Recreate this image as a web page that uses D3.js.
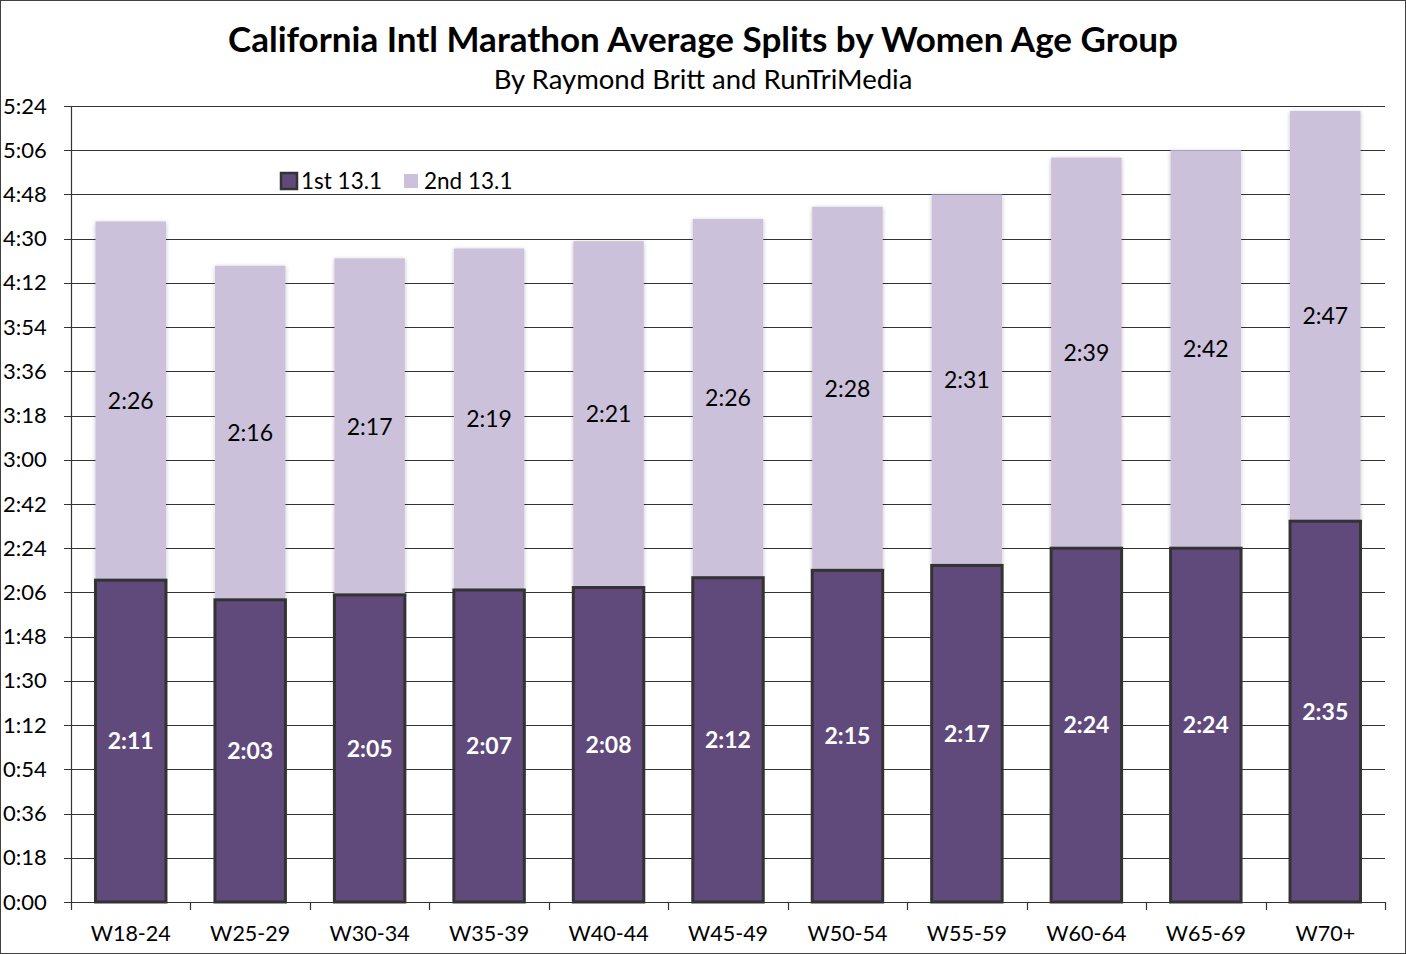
<!DOCTYPE html>
<html>
<head>
<meta charset="utf-8">
<script src="https://cdn.jsdelivr.net/npm/d3@7"></script>
<style>
  body { margin: 0; background: #fff; }
  text { font-family: Lato, "Noto Sans", sans-serif; fill: #000; }
</style>
</head>
<body>
<svg id="chart" width="1406" height="954"></svg>
<script>
// age groups and average split times (minutes)
var groups = ["W18-24", "W25-29", "W30-34", "W35-39", "W40-44", "W45-49", "W50-54", "W55-59", "W60-64", "W65-69", "W70+"];
var firstHalf = [131, 123, 125, 127, 128, 132, 135, 137, 144, 144, 155];
var secondHalf = [146, 136, 137, 139, 141, 146, 148, 151, 159, 162, 167];
var yTicks = d3.range(0, 325, 18);

var svg = d3.select("#chart");

// frame
svg.append("rect")
  .attr("x", 0.5).attr("y", 0.5)
  .attr("width", 1405).attr("height", 953)
  .attr("fill", "none").attr("stroke", "#404040");

var margin = {top: 106, right: 21, bottom: 52, left: 71},
    width = 1406 - margin.left - margin.right,
    height = 954 - margin.top - margin.bottom;

var g = svg.append("g")
  .attr("transform", "translate(" + margin.left + "," + margin.top + ")");

var x = d3.scaleBand()
  .domain(groups)
  .range([0, width])
  .paddingInner(0.41)
  .paddingOuter(0.205);

var y = d3.scaleLinear()
  .domain([0, 324])
  .range([height, 0]);

function fmt(m) {
  var h = Math.floor(m / 60), mm = Math.round(m % 60);
  return h + ":" + (mm < 10 ? "0" : "") + mm;
}

// gridlines
g.append("g")
  .selectAll("line")
  .data(yTicks)
  .enter().append("line")
  .attr("x1", -7).attr("x2", width)
  .attr("y1", d => Math.round(y(d)) + 0.5)
  .attr("y2", d => Math.round(y(d)) + 0.5)
  .attr("stroke", "#333").attr("stroke-width", 1.2);

// y axis
var yAxis = g.append("g")
  .call(d3.axisLeft(y).tickValues(yTicks).tickFormat(fmt).tickSize(0).tickPadding(24));
yAxis.select(".domain").attr("stroke", "#333").attr("stroke-width", 1.2);
yAxis.selectAll("text")
  .style("font-size", "22px")
  .attr("text-anchor", "start")
  .attr("x", -68);

// x axis
var xAxis = g.append("g")
  .attr("transform", "translate(0," + height + ")")
  .call(d3.axisBottom(x).tickSize(0).tickPadding(24));
xAxis.select(".domain").attr("stroke", "#333").attr("stroke-width", 1.2);
xAxis.selectAll("text").style("font-size", "21.5px");

// category boundary ticks
var step = x.step();
xAxis.selectAll("line.sep")
  .data(d3.range(groups.length + 1))
  .enter().append("line")
  .attr("class", "sep")
  .attr("x1", d => Math.round(d * step) + 0.5)
  .attr("x2", d => Math.round(d * step) + 0.5)
  .attr("y1", 0).attr("y2", 8)
  .attr("stroke", "#333").attr("stroke-width", 1.2);

// shadow filter for light bars
var defs = svg.append("defs");
var f = defs.append("filter").attr("id", "shadow")
  .attr("x", "-20%").attr("y", "-5%").attr("width", "140%").attr("height", "110%");
f.append("feGaussianBlur").attr("in", "SourceAlpha").attr("stdDeviation", 2);
f.append("feOffset").attr("dx", 0).attr("dy", 1).attr("result", "blur");
f.append("feComponentTransfer").append("feFuncA").attr("type", "linear").attr("slope", 0.25);
var mrg = f.append("feMerge");
mrg.append("feMergeNode");
mrg.append("feMergeNode").attr("in", "SourceGraphic");

// 2nd half (light)
g.selectAll("rect.second")
  .data(groups)
  .enter().append("rect")
  .attr("class", "second")
  .attr("x", d => x(d))
  .attr("width", x.bandwidth())
  .attr("y", (d, i) => y(firstHalf[i] + secondHalf[i]))
  .attr("height", (d, i) => y(firstHalf[i]) - y(firstHalf[i] + secondHalf[i]))
  .attr("fill", "#CCC1DA")
  .attr("filter", "url(#shadow)");

// 1st half (dark)
g.selectAll("rect.first")
  .data(groups)
  .enter().append("rect")
  .attr("class", "first")
  .attr("x", d => x(d))
  .attr("width", x.bandwidth())
  .attr("y", (d, i) => y(firstHalf[i]))
  .attr("height", (d, i) => height - y(firstHalf[i]))
  .attr("fill", "#604A7B")
  .attr("stroke", "#333")
  .attr("stroke-width", 3);

// labels
g.selectAll("text.l1")
  .data(groups)
  .enter().append("text")
  .attr("class", "l1")
  .attr("x", d => x(d) + x.bandwidth() / 2)
  .attr("y", (d, i) => y(firstHalf[i] / 2))
  .attr("dy", "0.35em")
  .attr("text-anchor", "middle")
  .style("font-size", "23px")
  .style("font-weight", "bold")
  .style("fill", "#fff")
  .text((d, i) => fmt(firstHalf[i]));

g.selectAll("text.l2")
  .data(groups)
  .enter().append("text")
  .attr("class", "l2")
  .attr("x", d => x(d) + x.bandwidth() / 2)
  .attr("y", (d, i) => y(firstHalf[i] + secondHalf[i] / 2))
  .attr("dy", "0.35em")
  .attr("text-anchor", "middle")
  .style("font-size", "23px")
  .text((d, i) => fmt(secondHalf[i]));

// legend
var legend = svg.append("g").attr("transform", "translate(280,172)");
legend.append("rect").attr("x", 1).attr("y", 1).attr("width", 16).attr("height", 16)
  .attr("fill", "#604A7B").attr("stroke", "#333").attr("stroke-width", 2.5);
legend.append("text").attr("x", 21).attr("y", 9).attr("dy", "0.35em")
  .style("font-size", "22.5px").text("1st 13.1");
legend.append("rect").attr("x", 124).attr("y", 2).attr("width", 14).attr("height", 14)
  .attr("fill", "#CCC1DA");
legend.append("text").attr("x", 144).attr("y", 9).attr("dy", "0.35em")
  .style("font-size", "22.5px").text("2nd 13.1");

// titles
svg.append("text")
  .attr("x", 703).attr("y", 52)
  .attr("text-anchor", "middle")
  .style("font-size", "35px").style("font-weight", "bold")
  .text("California Intl Marathon Average Splits by Women Age Group");
svg.append("text")
  .attr("x", 703).attr("y", 89)
  .attr("text-anchor", "middle")
  .style("font-size", "27.5px")
  .text("By Raymond Britt and RunTriMedia");
</script>
</body>
</html>
